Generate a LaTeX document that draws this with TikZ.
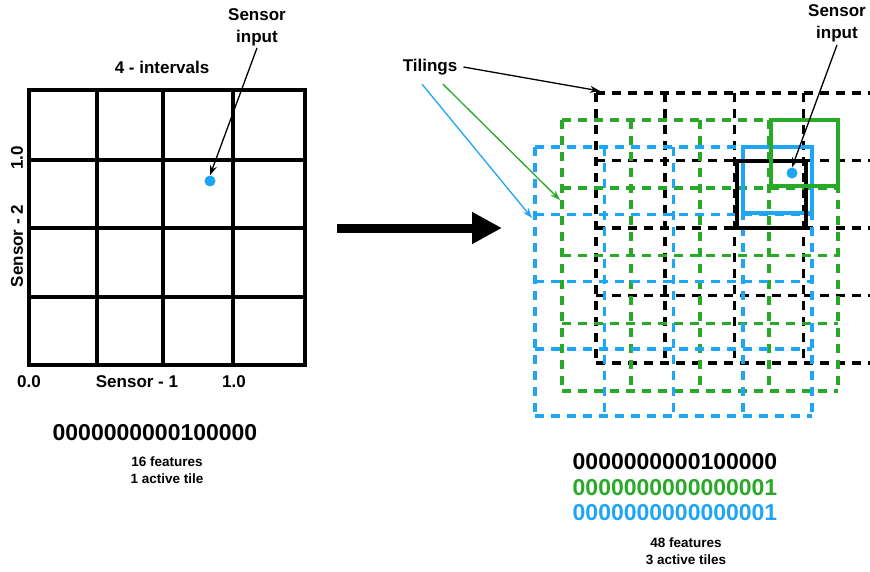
\documentclass[tikz,border=0pt]{standalone}
\usepackage{fontspec}
\setmainfont{Liberation Sans}
\usetikzlibrary{positioning}
\usetikzlibrary{arrows.meta}
\definecolor{tileblue}{RGB}{30,165,245}
\definecolor{tilegreen}{RGB}{40,170,40}

\begin{document}
\begin{tikzpicture}[x=1pt,y=-1pt,>={Stealth[length=10pt,width=7pt]},
	label text/.style={font=\fontsize{17}{22}\selectfont\bfseries,align=center,inner sep=0pt},
	small text/.style={font=\fontsize{13.5}{16.5}\selectfont\bfseries,align=center,inner sep=0pt},
	bits/.style={font=\fontsize{23}{26}\selectfont\bfseries,inner sep=0pt},
	grid line/.style={line width=4pt,line cap=rect},
	tile line/.style={line width=3.5pt,dash pattern=on 9pt off 7pt},
	active tile/.style={line width=4pt},
	sensor dot/.style={circle,fill=tileblue,inner sep=0pt,minimum size=11pt},
	pointer/.style={->,line width=1.3pt}]

	\useasboundingbox (0,0) rectangle (870,571);

	% left: a single tiling
	\foreach \x in {29,97,163,233,305}
		\draw[grid line] (\x,90) -- (\x,365);
	\foreach \y in {90,160,228,297,365}
		\draw[grid line] (29,\y) -- (305,\y);

	\node[label text] (intervals) at (162,67) {4 - intervals};
	\node[label text] (inputL) at (257,27) {Sensor\\input};
	\node[sensor dot] (dotL) at (210,181) {};
	\node[label text,rotate=90] (oneL) at (17,158) {1.0};
	\node[label text,rotate=90] (sensorTwo) at (17,246) {Sensor - 2};
	\node[label text] (zeroB) at (29,382) {0.0};
	\node[label text] (sensorOne) at (137,382) {Sensor - 1};
	\node[label text] (oneB) at (234,382) {1.0};
	\draw[pointer] ([yshift=-2pt]inputL.south) -- (dotL.north);

	\node[bits] (bitsL) at (155,433) {0000000000100000};
	\node[small text] (featL) at (167,470) {16 features\\1 active tile};

	% big arrow
	\coordinate (bigS) at (337,228);
	\coordinate (bigE) at (502,228);
	\draw[line width=9pt,-{Triangle[length=30pt,width=30pt]}] (bigS) -- (bigE);

	% right: three offset tilings
	\foreach \k in {0,...,4} {
		\draw[tile line] ({596+69.2*\k},93) -- ({596+69.2*\k},363);
		\draw[tile line] (596,{93+67.5*\k}) -- (873,{93+67.5*\k});
	}
	\foreach \k in {0,...,4} {
		\draw[tile line,tilegreen] ({562+69*\k},120) -- ({562+69*\k},391);
		\draw[tile line,tilegreen] (562,{120+67.75*\k}) -- (838,{120+67.75*\k});
	}
	\foreach \k in {0,...,4} {
		\draw[tile line,tileblue] ({535+69.25*\k},147) -- ({535+69.25*\k},416);
		\draw[tile line,tileblue] (535,{147+67.25*\k}) -- (812,{147+67.25*\k});
	}

	% active tiles
	\draw[active tile,tileblue] (743,147) rectangle (812,213);
	\draw[active tile,line width=4.5pt] (737,161) rectangle (806,228);
	\draw[active tile,line width=3.5pt,tilegreen] (771,120) rectangle (838,186);

	\node[sensor dot] (dotR) at (792,173) {};
	\node[label text] (inputR) at (837,23) {Sensor\\input};
	\draw[pointer] ([yshift=-3pt]inputR.south) -- (dotR.north);

	\node[label text] (tilings) at (430,67) {Tilings};
	\coordinate (blkCorner) at (600,91);
	\coordinate (grnEdge) at (560,200);
	\coordinate (bluEdge) at (532,218);
	\draw[pointer] ([xshift=6pt]tilings.east) -- (blkCorner);
	\draw[pointer,tilegreen] ([xshift=13pt,yshift=-9pt]tilings.south) -- (grnEdge);
	\draw[pointer,tileblue] ([xshift=-8pt,yshift=-9pt]tilings.south) -- (bluEdge);

	\node[bits] (bitsB) at (675,462) {0000000000100000};
	\node[bits,tilegreen] (bitsG) at (675,488) {0000000000000001};
	\node[bits,tileblue] (bitsU) at (675,513) {0000000000000001};
	\node[small text] (featR) at (686,551) {48 features\\3 active tiles};
\end{tikzpicture}
\end{document}
